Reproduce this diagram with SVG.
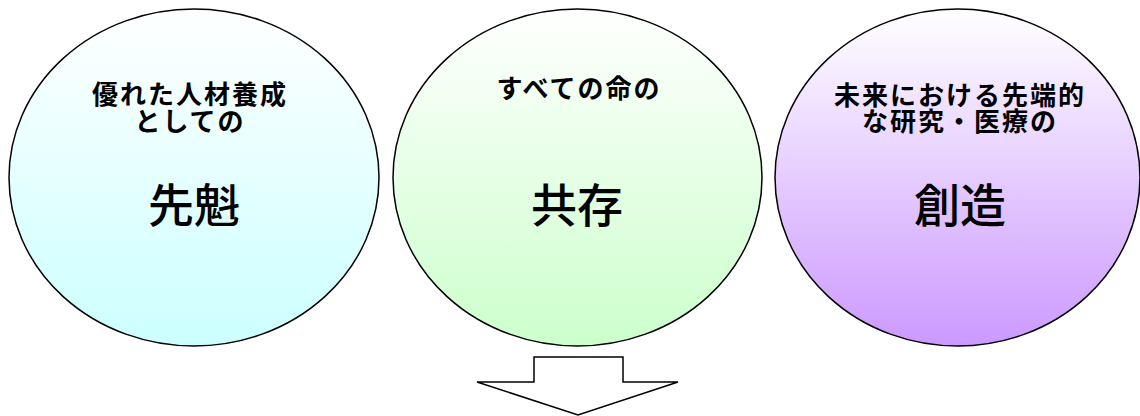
<svg xmlns="http://www.w3.org/2000/svg" width="1140" height="416" viewBox="0 0 1140 416">
<style>
.c{stroke:#000;stroke-width:1.5}
.s{font-family:"Noto Sans CJK JP",sans-serif;font-weight:bold;font-size:26px;letter-spacing:2px;text-anchor:middle;fill:#000}
.b{font-family:"Noto Sans CJK JP",sans-serif;font-weight:500;font-size:46px;text-anchor:middle;fill:#000}
</style>
<defs>
<linearGradient id="g1" x1="0" y1="0" x2="0" y2="1"><stop offset="0" stop-color="#ffffff"/><stop offset="1" stop-color="#ccffff"/></linearGradient>
<linearGradient id="g2" x1="0" y1="0" x2="0" y2="1"><stop offset="0" stop-color="#ffffff"/><stop offset="1" stop-color="#ccffcc"/></linearGradient>
<linearGradient id="g3" x1="0" y1="0" x2="0" y2="1"><stop offset="0" stop-color="#ffffff"/><stop offset="1" stop-color="#cc99ff"/></linearGradient>
</defs>
<g id="node1">
<ellipse class="c" cx="194" cy="177.5" rx="185" ry="168.5" fill="url(#g1)"/>
<text class="s"><tspan x="190" y="104">優れた人材養成</tspan><tspan x="190" y="131">としての</tspan></text>
<text class="b" x="194" y="222">先魁</text>
</g>
<g id="node2">
<ellipse class="c" cx="577.5" cy="177.5" rx="184.5" ry="168.5" fill="url(#g2)"/>
<text class="s" x="579" y="98">すべての命の</text>
<text class="b" x="577" y="222">共存</text>
</g>
<g id="node3">
<ellipse class="c" cx="957.5" cy="177.5" rx="182.5" ry="168.5" fill="url(#g3)"/>
<text class="s"><tspan x="960" y="105">未来における先端的</tspan><tspan x="960" y="131">な研究・医療の</tspan></text>
<text class="b" x="960" y="222">創造</text>
</g>
<g id="connectors">
<path d="M534,357 H623 V382 H678 L578,415 L477,382 H534 Z" fill="#fff" stroke="#000" stroke-width="1.5"/>
</g>
</svg>
